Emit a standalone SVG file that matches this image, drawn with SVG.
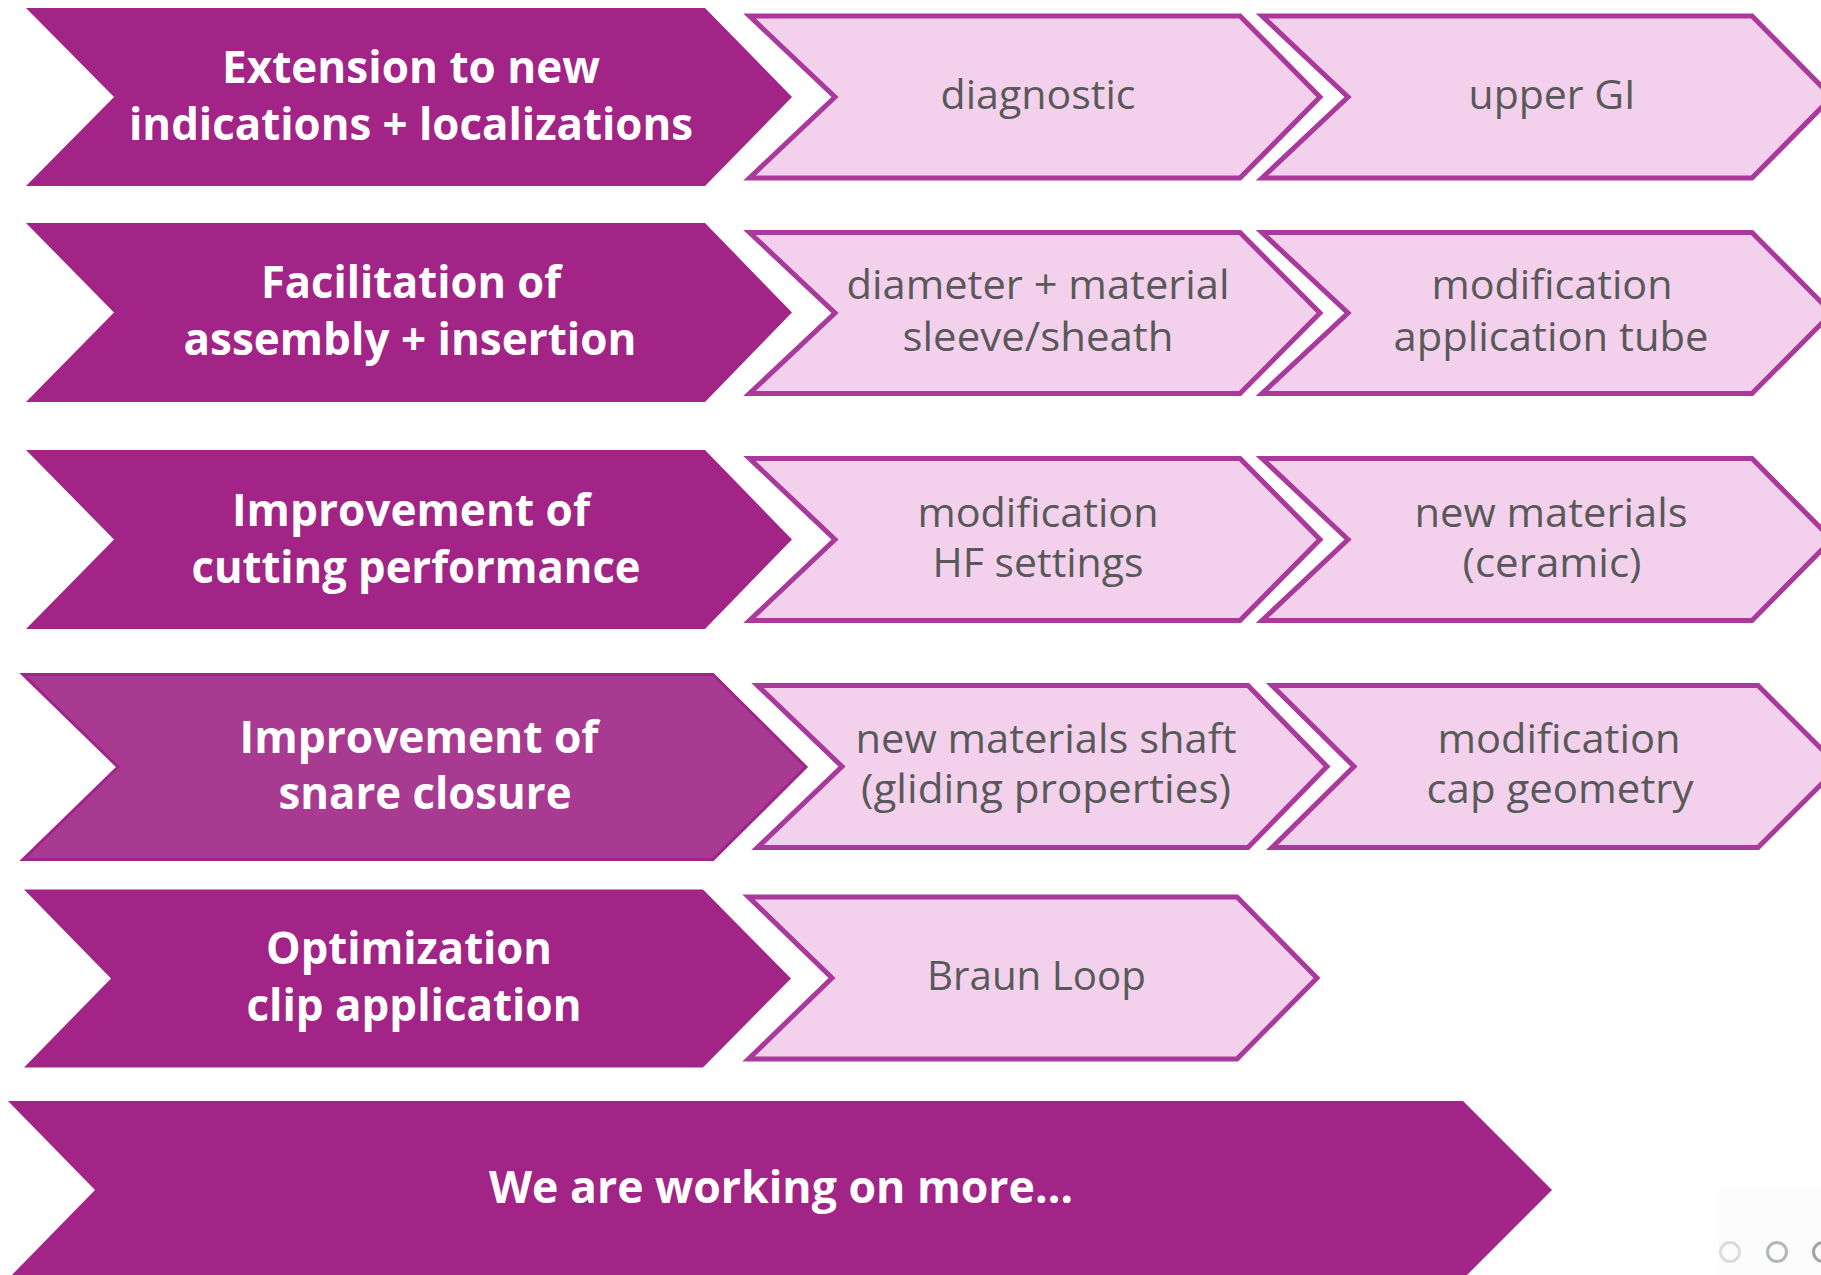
<svg xmlns="http://www.w3.org/2000/svg" width="1821" height="1275" viewBox="0 0 1821 1275">
<style>
.dark{fill:#A12486;}
.dark4{fill:#A83A92;stroke:#A12486;stroke-width:3;}
.light{fill:#F3D1EC;stroke:#A9399A;stroke-width:5;stroke-linejoin:miter;}
.tD{font-family:"Open Sans","Liberation Sans",sans-serif;font-weight:bold;font-size:44.5px;fill:#FFFFFF;text-anchor:middle;}
.tL{font-family:"Open Sans","Liberation Sans",sans-serif;font-size:39.5px;fill:#595959;text-anchor:middle;}
.dot{fill:none;stroke-width:3;}
</style>
<rect x="0" y="0" width="1821" height="1275" fill="#FFFFFF"/>
<rect x="1718" y="1187" width="103" height="88" fill="#FCFCFC"/>

<g id="connectors"></g>

<g id="n-extension">
<polygon class="dark" points="26,8 705,8 792,97 705,186 26,186 114,97"/>
<text class="tD" x="411" y="83" textLength="378" lengthAdjust="spacingAndGlyphs">Extension to new</text>
<text class="tD" x="411" y="140" textLength="564" lengthAdjust="spacingAndGlyphs">indications + localizations</text>
</g>
<g id="n-diagnostic">
<polygon class="light" points="749.5,16 1240,16 1320,97 1240,178 749.5,178 835,97"/>
<text class="tL" x="1038" y="109" textLength="195" lengthAdjust="spacingAndGlyphs">diagnostic</text>
</g>
<g id="n-uppergi">
<polygon class="light" points="1262,16 1752,16 1832,97 1752,178 1262,178 1348,97"/>
<text class="tL" x="1552" y="109" textLength="167" lengthAdjust="spacingAndGlyphs">upper GI</text>
</g>

<g id="n-facilitation">
<polygon class="dark" points="26,223 705,223 792,312.5 705,402 26,402 114,312.5"/>
<text class="tD" x="411" y="298" textLength="300" lengthAdjust="spacingAndGlyphs">Facilitation of</text>
<text class="tD" x="410" y="355" textLength="453" lengthAdjust="spacingAndGlyphs">assembly + insertion</text>
</g>
<g id="n-diameter">
<polygon class="light" points="749.5,232.5 1240,232.5 1320,313 1240,393.5 749.5,393.5 835,313"/>
<text class="tL" x="1038" y="299" textLength="383" lengthAdjust="spacingAndGlyphs">diameter + material</text>
<text class="tL" x="1038" y="351" textLength="271" lengthAdjust="spacingAndGlyphs">sleeve/sheath</text>
</g>
<g id="n-apptube">
<polygon class="light" points="1262,232.5 1752,232.5 1832,313 1752,393.5 1262,393.5 1348,313"/>
<text class="tL" x="1552" y="299" textLength="241" lengthAdjust="spacingAndGlyphs">modification</text>
<text class="tL" x="1551" y="351" textLength="315" lengthAdjust="spacingAndGlyphs">application tube</text>
</g>

<g id="n-cutting">
<polygon class="dark" points="26,450 705,450 792,539.5 705,629 26,629 114,539.5"/>
<text class="tD" x="411" y="526" textLength="358" lengthAdjust="spacingAndGlyphs">Improvement of</text>
<text class="tD" x="416" y="583" textLength="449" lengthAdjust="spacingAndGlyphs">cutting performance</text>
</g>
<g id="n-hf">
<polygon class="light" points="749.5,458.5 1240,458.5 1320,539.5 1240,620.5 749.5,620.5 835,539.5"/>
<text class="tL" x="1038" y="527" textLength="241" lengthAdjust="spacingAndGlyphs">modification</text>
<text class="tL" x="1038" y="577" textLength="211" lengthAdjust="spacingAndGlyphs">HF settings</text>
</g>
<g id="n-ceramic">
<polygon class="light" points="1262,458.5 1752,458.5 1832,539.5 1752,620.5 1262,620.5 1348,539.5"/>
<text class="tL" x="1551" y="527" textLength="273" lengthAdjust="spacingAndGlyphs">new materials</text>
<text class="tL" x="1552" y="577" textLength="179" lengthAdjust="spacingAndGlyphs">(ceramic)</text>
</g>

<g id="n-snare">
<polygon class="dark4" points="23,674.5 713,674.5 806,767 713,859.5 23,859.5 118,767"/>
<text class="tD" x="419" y="753" textLength="359" lengthAdjust="spacingAndGlyphs">Improvement of</text>
<text class="tD" x="425" y="809" textLength="293" lengthAdjust="spacingAndGlyphs">snare closure</text>
</g>
<g id="n-shaft">
<polygon class="light" points="757.5,685.5 1248,685.5 1327,766.5 1248,847.5 757.5,847.5 842,766.5"/>
<text class="tL" x="1046" y="753" textLength="381" lengthAdjust="spacingAndGlyphs">new materials shaft</text>
<text class="tL" x="1046" y="803" textLength="370" lengthAdjust="spacingAndGlyphs">(gliding properties)</text>
</g>
<g id="n-cap">
<polygon class="light" points="1272,685.5 1758,685.5 1839,766.5 1758,847.5 1272,847.5 1354,766.5"/>
<text class="tL" x="1559" y="753" textLength="243" lengthAdjust="spacingAndGlyphs">modification</text>
<text class="tL" x="1560" y="803" textLength="267" lengthAdjust="spacingAndGlyphs">cap geometry</text>
</g>

<g id="n-clip">
<polygon class="dark" points="24,889.5 703,889.5 791,978.5 703,1067.5 24,1067.5 111,978.5"/>
<text class="tD" x="409" y="964" textLength="286" lengthAdjust="spacingAndGlyphs">Optimization</text>
<text class="tD" x="414" y="1021" textLength="335" lengthAdjust="spacingAndGlyphs">clip application</text>
</g>
<g id="n-braun">
<polygon class="light" points="748.5,897 1237,897 1317,978 1237,1059 748.5,1059 832,978"/>
<text class="tL" x="1036.5" y="990" textLength="219" lengthAdjust="spacingAndGlyphs">Braun Loop</text>
</g>

<g id="n-more">
<polygon class="dark" points="8,1101 1463,1101 1552,1190 1463,1279 8,1279 95,1190"/>
<text class="tD" x="781" y="1203" textLength="584" lengthAdjust="spacingAndGlyphs">We are working on more…</text>
</g>

<g id="pager">
<circle class="dot" cx="1730" cy="1252" r="9.5" stroke="#DCDCDC"/>
<circle class="dot" cx="1777" cy="1252" r="9.5" stroke="#B3B7BA"/>
<circle class="dot" cx="1823" cy="1252" r="9.5" stroke="#9EA2A6"/>
</g>
</svg>
